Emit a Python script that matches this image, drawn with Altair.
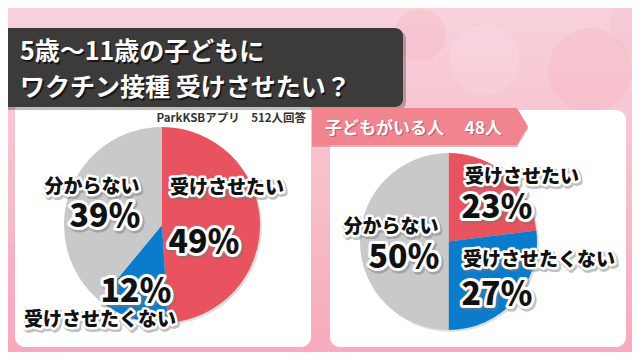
import altair as alt
import pandas as pd

# ---------------- data ----------------
categories = ["受けさせたい", "受けさせたくない", "分からない"]
all_values = [49, 12, 39]          # ParkKSBアプリ 512人回答
parent_values = [23, 27, 50]       # 子どもがいる人 48人
colors = ["#e8535f", "#0b7ccb", "#c9c9c9"]
title_lines = ["5歳～11歳の子どもに", "ワクチン接種 受けさせたい？"]
source_note = "ParkKSBアプリ　512人回答"
group_label = "子どもがいる人　 48人"

FONT = "Noto Sans CJK JP"
W, H = 624, 344
OFF = 8  # page margin: chart pixel = reference pixel - 8


def P(v):
    return v - OFF


one = alt.Data(values=[{"a": 1}])


def box(x1, y1, x2, y2, color, radius=0, opacity=1.0):
    return alt.Chart(one).mark_rect(color=color, cornerRadius=radius, opacity=opacity).encode(
        x=alt.value(P(x1)), x2=alt.value(P(x2)), y=alt.value(P(y1)), y2=alt.value(P(y2))
    )


def blob(cx, cy, r, color, opacity):
    return alt.Chart(one).mark_arc(color=color, opacity=opacity, outerRadius=r).encode(
        theta=alt.value(0), theta2=alt.value(6.2832), x=alt.value(P(cx)), y=alt.value(P(cy))
    )


def outlined(text, cx, cy, size, weight=900, halo=5):
    base = dict(text=text, font=FONT, fontSize=size, fontWeight=weight,
                align="center", baseline="middle")
    shadow = alt.Chart(one).mark_text(color="#777", stroke="#777", strokeWidth=halo + 1,
                                      strokeJoin="round", opacity=0.45, **base).encode(
        x=alt.value(P(cx) + 1.5), y=alt.value(P(cy) + 1.5))
    halo_l = alt.Chart(one).mark_text(color="white", stroke="white", strokeWidth=halo,
                                      strokeJoin="round", **base).encode(
        x=alt.value(P(cx)), y=alt.value(P(cy)))
    fill = alt.Chart(one).mark_text(color="#111", **base).encode(
        x=alt.value(P(cx)), y=alt.value(P(cy)))
    return [shadow, halo_l, fill]


def pie(values, cx, cy, r):
    df = pd.DataFrame({"cat": categories, "val": values, "idx": list(range(len(values)))})
    shadow = blob(cx + 2, cy + 2, r, "#000", 0.12)
    arcs = alt.Chart(df).mark_arc(outerRadius=r).encode(
        theta=alt.Theta("val:Q", stack=True),
        color=alt.Color("cat:N", scale=alt.Scale(domain=categories, range=colors), legend=None),
        order=alt.Order("idx:Q"),
        x=alt.value(P(cx)), y=alt.value(P(cy)),
    )
    return [shadow, arcs]


layers = []

# background
grad = alt.LinearGradient(
    gradient="linear", x1=0, y1=0, x2=0, y2=1,
    stops=[alt.GradientStop(offset=0, color="#f8d2db"),
           alt.GradientStop(offset=0.5, color="#f6bfcc"),
           alt.GradientStop(offset=1, color="#f7abbe")])
layers.append(alt.Chart(one).mark_rect(color=grad).encode(
    x=alt.value(0), x2=alt.value(W), y=alt.value(0), y2=alt.value(H)))
layers += [blob(420, 35, 26, "#f29cb0", 0.18), blob(590, 70, 42, "#f3a3b6", 0.2),
           blob(485, 60, 35, "#fbe0e6", 0.25), blob(650, 20, 40, "#f5b3c3", 0.2),
           blob(30, 300, 60, "#f6a7bb", 0.2)]

# panels
layers.append(box(15, 100, 311, 347, "white", radius=10))
layers.append(box(330, 110, 626, 347, "white", radius=10))

# title box
layers.append(box(-20, 31, 406, 110, "#000", radius=8, opacity=0.25))
layers.append(box(-20, 28, 403, 107, "#3d3a3a", radius=8))
for i, line in enumerate(title_lines):
    ty = 52 + i * 36
    layers.append(alt.Chart(one).mark_text(text=line, font=FONT, fontSize=25, fontWeight=700,
                                           color="#000", opacity=0.6, align="left",
                                           baseline="middle").encode(
        x=alt.value(P(20) + 1.5), y=alt.value(P(ty) + 1.5)))
    layers.append(alt.Chart(one).mark_text(text=line, font=FONT, fontSize=25, fontWeight=700,
                                           color="white", align="left",
                                           baseline="middle").encode(
        x=alt.value(P(20)), y=alt.value(P(ty))))

# source note
layers.append(alt.Chart(one).mark_text(text=source_note, font=FONT, fontSize=11.5, fontWeight=700,
                                       color="#333", align="right", baseline="middle").encode(
    x=alt.value(P(306)), y=alt.value(P(119))))

# arrow label
arrow_path = "M-1,-0.171 L0.898,-0.171 L1,0 L0.898,0.171 L-1,0.171 Z"
layers.append(alt.Chart(one).mark_point(shape=arrow_path, size=46656, filled=True, color="#c96a75",
                                        opacity=0.5, strokeWidth=0).encode(
    x=alt.value(P(420)), y=alt.value(P(128.5))))
layers.append(alt.Chart(one).mark_point(shape=arrow_path, size=46656, filled=True, color="#f1858f",
                                        opacity=1, strokeWidth=0).encode(
    x=alt.value(P(420)), y=alt.value(P(126.5))))
layers.append(alt.Chart(one).mark_text(text=group_label, font=FONT, fontSize=17, fontWeight=700,
                                       color="#a04550", opacity=0.6, align="left",
                                       baseline="middle").encode(
    x=alt.value(P(325) + 1.2), y=alt.value(P(129) + 1.2)))
layers.append(alt.Chart(one).mark_text(text=group_label, font=FONT, fontSize=17, fontWeight=700,
                                       color="white", align="left", baseline="middle").encode(
    x=alt.value(P(325)), y=alt.value(P(129))))

# pies
layers += pie(all_values, 162, 225, 98)
layers += pie(parent_values, 448.5, 241.5, 88.5)

# labels (annotation positions)
left_pos = {"受けさせたい": ((227, 188), (204, 243)),
            "受けさせたくない": ((100, 320), (136, 292)),
            "分からない": ((92, 187), (105, 217))}
right_pos = {"受けさせたい": ((522, 177), (497, 208)),
             "受けさせたくない": ((539, 260), (497, 295)),
             "分からない": ((391, 227), (404, 258))}
for vals, pos in ((all_values, left_pos), (parent_values, right_pos)):
    for cat, v in zip(categories, vals):
        (lx, ly), (px, py) = pos[cat]
        layers += outlined(cat, lx, ly, 19, weight=800, halo=5)
        layers += outlined(f"{v}％", px, py, 32, weight=900, halo=6)

chart = alt.layer(*layers).properties(
    width=W, height=H, padding=0, autosize=alt.AutoSizeParams(type="none")
).configure_view(stroke=None)

chart.save("out.html", embed_options={"renderer": "svg", "actions": False})
